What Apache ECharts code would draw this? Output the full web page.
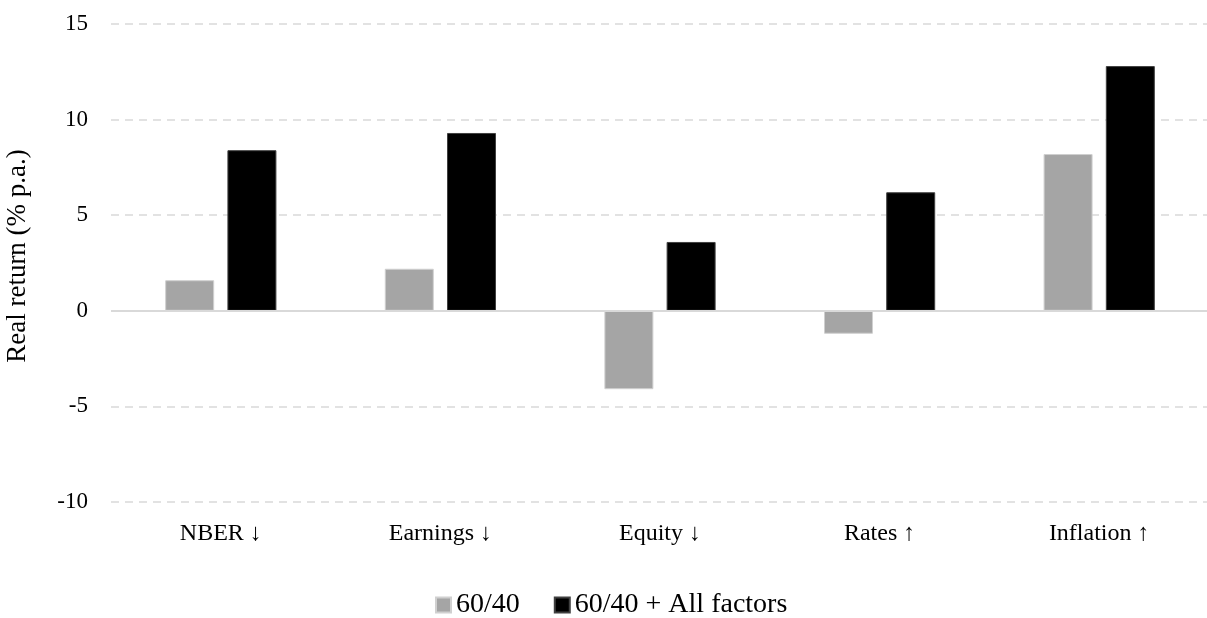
<!DOCTYPE html>
<html>
<head>
<meta charset="utf-8">
<script src="https://cdn.jsdelivr.net/npm/echarts@6/dist/echarts.min.js"></script>
<style>
  html, body { margin: 0; padding: 0; background: #fff; }
  #chart { width: 1207px; height: 618px; }
</style>
</head>
<body>
<div id="chart"></div>
<script>
// data
const categories = ["NBER \u2193", "Earnings \u2193", "Equity \u2193", "Rates \u2191", "Inflation \u2191"];
const base6040 = [1.6, 2.2, -4.1, -1.2, 8.2];
const allFactors = [8.4, 9.3, 3.6, 6.2, 12.8];
const seriesNames = ["60/40", "60/40 + All factors"];

const font = '"Palatino Linotype", "Book Antiqua", Palatino, "Liberation Serif", serif';

const chart = echarts.init(document.getElementById("chart"));
chart.setOption({
  animation: false,
  textStyle: { fontFamily: font },
  grid: {
    left: 111,
    right: -2,
    top: 24,
    bottom: 116,
    outerBoundsMode: "none",
    containLabel: false,
  },
  legend: {
    data: seriesNames,
    top: 586,
    left: 430,
    itemWidth: 15,
    itemHeight: 15,
    itemGap: 34,
    icon: "rect",
    textStyle: { fontFamily: font, fontSize: 28, color: "#000" },
  },
  xAxis: {
    type: "category",
    data: categories,
    axisTick: { show: false },
    axisLine: { show: false },
    axisLabel: { color: "#000", fontSize: 24, fontFamily: font, margin: 20 },
  },
  yAxis: {
    type: "value",
    min: -10,
    max: 15,
    interval: 5,
    name: "Real return (% p.a.)",
    nameLocation: "middle",
    nameGap: 80,
    nameTextStyle: { fontSize: 27, fontFamily: font, color: "#000", padding: [0, 0, 0, 14] },
    axisLine: { show: false },
    axisTick: { show: false },
    axisLabel: { color: "#000", fontSize: 23, fontFamily: font, margin: 23 },
    splitLine: {
      lineStyle: { color: "#D9D9D9", type: [8, 6], width: 1.5 },
    },
  },
  series: [
    {
      name: seriesNames[0],
      type: "bar",
      data: base6040,
      barWidth: 49,
      barGap: "27%",
      itemStyle: { color: "#A5A5A5", borderColor: "#D0D0D0", borderWidth: 1 },
      markLine: {
        silent: true,
        symbol: "none",
        label: { show: false },
        lineStyle: { color: "#D9D9D9", type: "solid", width: 2 },
        data: [{ yAxis: 0 }],
      },
      z: 3,
    },
    {
      name: seriesNames[1],
      type: "bar",
      data: allFactors,
      barWidth: 49,
      itemStyle: { color: "#000000", borderColor: "#404040", borderWidth: 1 },
      z: 3,
    },
  ],
});
</script>
</body>
</html>
